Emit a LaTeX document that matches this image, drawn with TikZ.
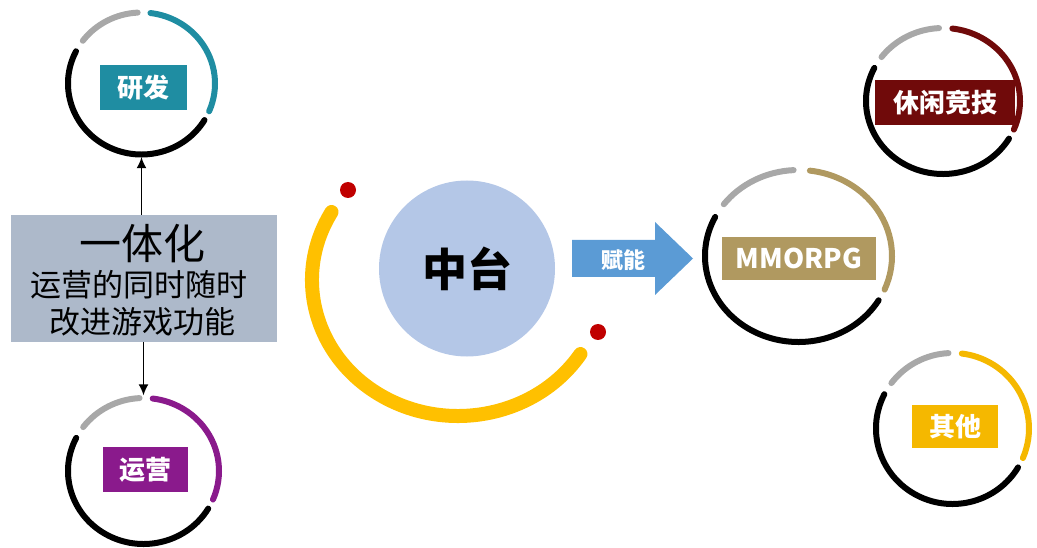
\documentclass[tikz,border=0pt]{standalone}
\usepackage{fontspec}
\newfontfamily\cjk{Noto Sans CJK SC}
\usetikzlibrary{calc,arrows.meta}
\definecolor{cteal}{RGB}{31,141,162}
\definecolor{cpurple}{RGB}{138,26,140}
\definecolor{cdred}{RGB}{112,10,10}
\definecolor{ctan}{RGB}{176,153,96}
\definecolor{cgold}{RGB}{245,184,0}
\definecolor{cyellow}{RGB}{255,192,0}
\definecolor{ringgray}{RGB}{168,168,168}
\definecolor{cblue}{RGB}{180,199,231}
\definecolor{arrblue}{RGB}{91,155,213}
\definecolor{boxgray}{RGB}{173,185,202}
\definecolor{dotred}{RGB}{192,0,0}
\tikzset{
  rl/.style={line width=6pt,line cap=round},
  ringc/.style={circle,inner sep=0,minimum size=10pt},
  lab/.style={inner sep=0,text=white,font=\cjk\bfseries\fontsize{26}{30}\selectfont},
  lbtxt/.style={inner sep=0,text=black},
  conn/.style={-{Latex[length=11pt,width=10pt]},line width=1.4pt},
  rdot/.style={circle,fill=dotred,minimum size=16pt,inner sep=0}
}
\newcommand\gring[4]{%
  \draw[rl,ringgray] (#1.center) ++(93:#2pt and #3pt) arc[start angle=93,end angle=143,x radius=#2pt,y radius=#3pt];
  \draw[rl,#4] (#1.center) ++(-23:#2pt and #3pt) arc[start angle=-23,end angle=83,x radius=#2pt,y radius=#3pt];
  \draw[rl,black] (#1.center) ++(153:#2pt and #3pt) arc[start angle=153,end angle=329,x radius=#2pt,y radius=#3pt];
}
\begin{document}
\begin{tikzpicture}[x=1pt,y=-1pt]
\useasboundingbox (0,0) rectangle (1037,548);
% ring centres
\node[ringc,minimum width=147pt,minimum height=142pt] (rd) at (141.5,83.5) {};
\node[ringc,minimum width=151pt,minimum height=146pt] (ry) at (143.5,471) {};
\node[ringc,minimum width=154pt,minimum height=146pt] (rx) at (943,101) {};
\node[ringc,minimum width=187pt,minimum height=172pt] (rm) at (798.5,256) {};
\node[ringc,minimum width=153pt,minimum height=151pt] (rq) at (952.5,428.5) {};
\gring{rd}{73.5}{71}{cteal}
\gring{ry}{75.5}{73}{cpurple}
\gring{rx}{77}{73}{cdred}
\gring{rm}{93.5}{86}{ctan}
\gring{rq}{76.5}{75.5}{cgold}
% labels
\node[lab,fill=cteal,minimum width=87pt,minimum height=45pt] (ld) at (143.5,87.5) {研发};
\node[lab,fill=cpurple,minimum width=85pt,minimum height=45pt] (ly) at (145.5,469.5) {运营};
\node[lab,fill=cdred,minimum width=140pt,minimum height=45pt] (lx) at (945,102.5) {休闲竞技};
\node[lab,fill=ctan,minimum width=154pt,minimum height=43pt,font=\cjk\bfseries\fontsize{27}{30}\selectfont] (lm) at (799,258.5) {MMORPG};
\node[lab,fill=cgold,minimum width=86pt,minimum height=43pt] (lq) at (955,426.5) {其他};
% left box
\node[fill=boxgray,minimum width=266pt,minimum height=127pt,inner sep=0] (lb) at (144,278.5) {};
\node[lbtxt,font=\cjk\fontsize{42}{46}\selectfont] (t1) at (142,244) {一体化};
\node[lbtxt,font=\cjk\fontsize{31}{34}\selectfont] (t2) at (139,285) {运营的同时随时};
\node[lbtxt,font=\cjk\fontsize{31}{34}\selectfont] (t3) at (142,322) {改进游戏功能};
\draw[conn] (rd.south |- lb.north) -- (rd.south);
\draw[conn] (ry.north |- lb.south) -- (ry.north);
% centre
\draw[line width=14pt,line cap=round,cyellow] (458,280) ++(150:146pt and 136pt) arc[start angle=150,end angle=327,x radius=146pt,y radius=136pt];
\node[rdot] (d1) at (348,190) {};
\node[rdot] (d2) at (598,332) {};
\node[circle,fill=cblue,minimum size=176pt,inner sep=0,font=\cjk\bfseries\fontsize{45}{50}\selectfont] (zt) at (467,268.5) {中台};
% arrow
\fill[arrblue] (572,240) -- (655,240) -- (655,222) -- (693,258.5) -- (655,295) -- (655,277) -- (572,277) -- cycle;
\node[inner sep=0,text=white,font=\cjk\bfseries\fontsize{22}{26}\selectfont] (fn) at (623,260) {赋能};
\end{tikzpicture}
\end{document}
